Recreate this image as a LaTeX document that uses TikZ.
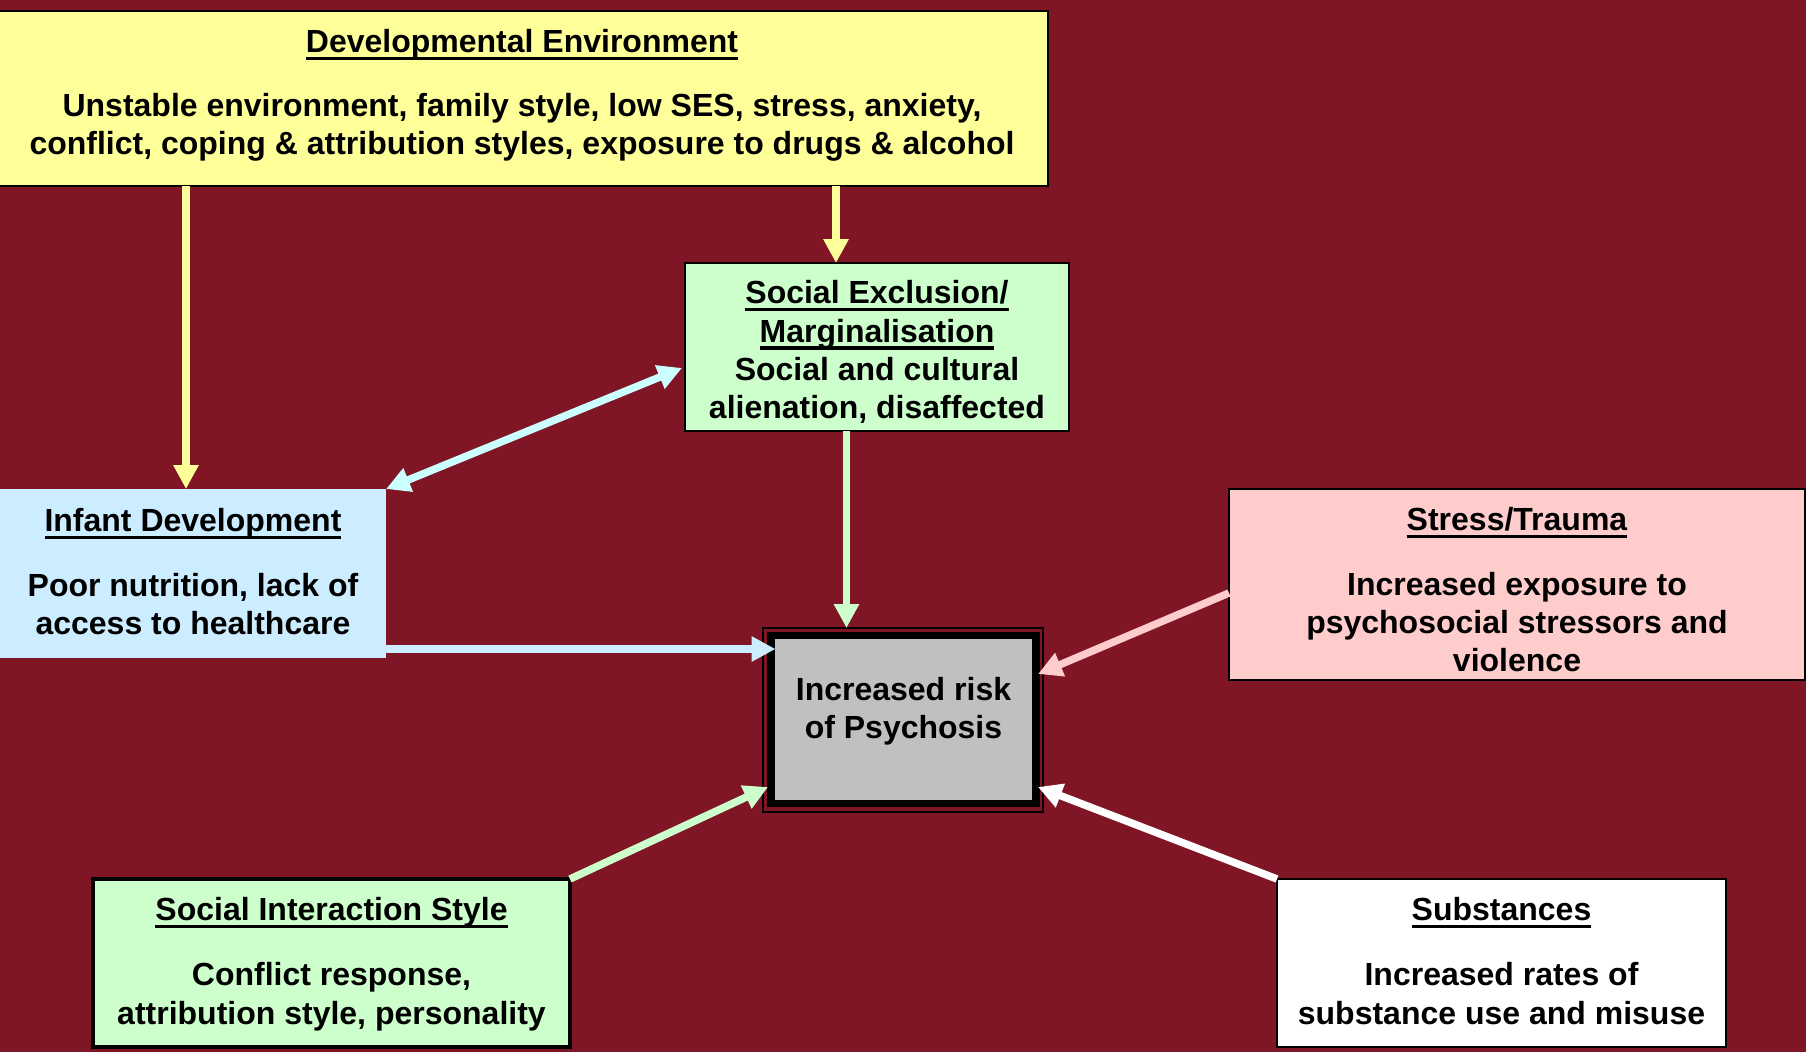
\documentclass[tikz,border=0pt]{standalone}
\usepackage{fontspec}
\setmainfont{Liberation Sans}
\usetikzlibrary{arrows.meta}
\definecolor{bgred}{RGB}{128,21,38}
\definecolor{cyel}{RGB}{255,255,153}
\definecolor{cgrn}{RGB}{204,255,204}
\definecolor{cblu}{RGB}{204,236,255}
\definecolor{ccyn}{RGB}{204,255,255}
\definecolor{cpnk}{RGB}{255,204,204}
\definecolor{cgry}{RGB}{192,192,192}
\newsavebox\ulbox
\newcommand{\uln}[1]{\sbox\ulbox{#1}\rlap{\rule[-7.5pt]{\wd\ulbox}{3.5pt}}\usebox\ulbox}
\begin{document}
\begin{tikzpicture}[x=1pt,y=-1pt,
  every node/.style={font=\fontsize{32}{38.4}\selectfont\bfseries},
  boxst/.style={draw=black, line width=2.5pt, inner sep=0pt, outer sep=0pt, rectangle},
  txt/.style={align=center, inner sep=0pt, outer sep=0pt, anchor=north, text=black,
    execute at begin node={\rule{0pt}{27pt}}},
  tip/.style={-{Triangle[length=24pt,width=24pt]}},
  arr/.style={line width=7.5pt, tip},
  darr/.style={line width=7.5pt, {Triangle[length=24pt,width=24pt]}-{Triangle[length=24pt,width=24pt]}}
]
\useasboundingbox (0,0) rectangle (1806,1052);
\fill[bgred] (0,0) rectangle (1806,1052);

% boxes
\node[boxst, fill=cyel, minimum width=1051pt, minimum height=175pt] (dev) at (522.5,98.5) {};
\node[boxst, fill=cgrn, minimum width=384pt, minimum height=168pt] (soc) at (877,347) {};
\node[boxst, draw=none, fill=cblu, minimum width=388pt, minimum height=169pt] (inf) at (192,573.5) {};
\node[boxst, fill=cpnk, minimum width=576pt, minimum height=191pt] (str) at (1517,584.5) {};
\node[boxst, fill=cgrn, line width=3.5pt, minimum width=477pt, minimum height=168pt] (sis) at (331.5,963) {};
\node[boxst, fill=white, minimum width=449pt, minimum height=168pt] (sub) at (1501.5,963) {};
\node[boxst, line width=1.5pt, minimum width=280pt, minimum height=184pt] (outer) at (903,720) {};
\node[boxst, fill=cgry, line width=7.5pt, minimum width=265pt, minimum height=168pt] (risk) at (903.5,719.5) {};

% texts
\node[txt] (devt) at (522,29.5) {\uln{Developmental Environment}\\[25.5pt]Unstable environment, family style, low SES, stress, anxiety,\\conflict, coping \& attribution styles, exposure to drugs \& alcohol};
\node[txt] (soct) at (877,280.5) {\uln{Social Exclusion/}\\\uln{Marginalisation}\\Social and cultural\\alienation, disaffected};
\node[txt] (inft) at (193,508.5) {\uln{Infant Development}\\[26pt]Poor nutrition, lack of\\access to healthcare};
\node[txt] (strt) at (1517,507.5) {\uln{Stress/Trauma}\\[26pt]Increased exposure to\\psychosocial stressors and\\violence};
\node[txt] (sist) at (331.5,897.5) {\uln{Social Interaction Style}\\[26.5pt]Conflict response,\\attribution style, personality};
\node[txt] (subt) at (1501.5,897.5) {\uln{Substances}\\[26.5pt]Increased rates of\\substance use and misuse};
\node[txt] (riskt) at (903.5,677) {Increased risk\\of Psychosis};

% arrow end points
\coordinate (blueTip) at (775.5,649);
\coordinate (socTip) at (682,368);
\coordinate (pinkTip) at (1038,674);
\coordinate (whiteTip) at (1038,787);
\coordinate (sisTip) at (768,787);

% connectors
\draw[arr, cyel] (dev.south -| 186,0) -- (inf.north -| 186,0);
\draw[arr, cyel] (dev.south -| 836,0) -- (soc.north -| 836,0);
\draw[arr, cgrn] (soc.south -| 846.5,0) -- (outer.north -| 846.5,0);
\draw[arr, cblu] (inf.east |- blueTip) -- (blueTip);
\draw[darr, ccyn] (inf.north east) -- (socTip);
\draw[arr, cpnk] (str.west |- 0,593) -- (pinkTip);
\draw[arr, white] (sub.north west) -- (whiteTip);
\draw[arr, cgrn] (sis.north east) -- (sisTip);
\end{tikzpicture}
\end{document}
